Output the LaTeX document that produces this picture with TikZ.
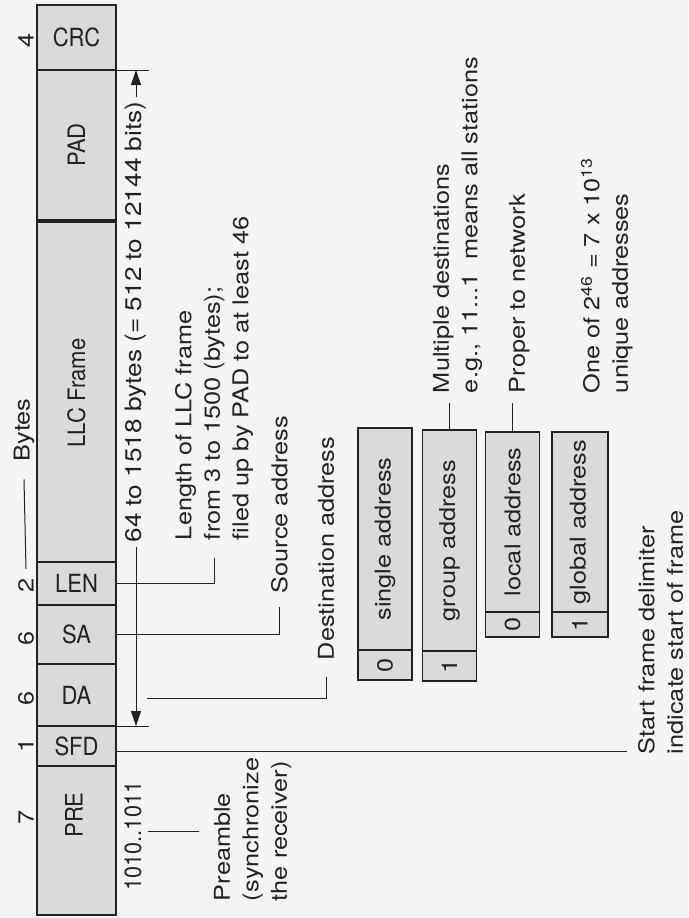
\documentclass[tikz,border=0pt]{standalone}
\usepackage{fontspec}
\setmainfont{TeX Gyre Heros}
\newfontfamily\rotf[FakeStretch=1.16]{TeX Gyre Heros}
\newfontfamily\rotc[FakeStretch=0.92]{TeX Gyre Heros}
\newfontfamily\horf[FakeStretch=0.88]{TeX Gyre Heros}
\usetikzlibrary{arrows.meta,calc}
\definecolor{bg}{HTML}{F4F4F4}
\definecolor{boxfill}{HTML}{DADADA}
\definecolor{ink}{HTML}{222222}
\begin{document}
\begin{tikzpicture}[x=1pt,y=-1pt,
  every node/.style={inner sep=0pt, outer sep=0pt, text=ink},
  hfield/.style={draw=ink, fill=boxfill, line width=1.1pt, minimum width=79pt, font=\horf\fontsize{25}{28}\selectfont},
  rfield/.style={draw=ink, fill=boxfill, line width=1.1pt, rotate=90, minimum height=79pt, font=\rotc\fontsize{24}{28}\selectfont},
  rlabel/.style={rotate=90, font=\rotc\fontsize{24}{28}\selectfont},
  note/.style={rotate=90, align=left, anchor=north west, font=\rotf\fontsize{21.8}{28.5}\selectfont},
  num/.style={rotate=90, font=\rotf\fontsize{21.8}{26}\selectfont},
  leader/.style={draw=ink, line width=1pt},
  dimarrow/.style={draw=ink, line width=1pt, -{Triangle[length=15pt,width=10pt]}},
  addr/.style={draw=ink, fill=boxfill, line width=1.1pt, rotate=90, minimum height=54pt, font=\rotf\fontsize{21.8}{26}\selectfont},
]
\fill[bg] (0,0) rectangle (688,918);
\useasboundingbox (0,0) rectangle (688,918);

% frame fields
\node[hfield, minimum height=65pt] (crc) at (76.5,37.5) {CRC};
\node[rfield, minimum width=150pt] (pad) at (76.5,145) {PAD};
\node[rfield, minimum width=342pt] (llc) at (76.5,393) {LLC Frame};
\node[hfield, minimum height=43pt] (len) at (76.5,583.5) {LEN};
\node[hfield, minimum height=59pt] (sa) at (76.5,634.5) {SA};
\node[hfield, minimum height=62pt] (da) at (76.5,695) {DA};
\node[hfield, minimum height=40pt] (sfd) at (76.5,746) {SFD};
\node[rfield, minimum width=149pt] (pre) at (76.5,840.5) {};
\node[rlabel] (prelabel) at (74,815) {PRE};

% byte counts
\node[num] (n4) at (26,40) {4};
\node[num] (n2) at (26,585) {2};
\node[num] (n6a) at (26,638) {6};
\node[num] (n6b) at (26,698) {6};
\node[num] (n1) at (26,745) {1};
\node[num] (n7) at (26,817) {7};
\node[num] (bytes) at (24,430) {Bytes};
\draw[leader] ($(bytes.west)+(0,18)$) -- ($(n2.east)+(0,-9)$);

% dimension arrow
\coordinate (atop) at (136,70);
\coordinate (abot) at (136,726);
\coordinate (ttop) at (149,70);
\coordinate (tbot) at (149,726);
\draw[leader] (crc.south east) -- (ttop);
\draw[leader] (da.south east) -- (tbot);
\node[num, font=\rotf\fontsize{22.6}{26}\selectfont] (dim) at (136,322) {64 to 1518 bytes (= 512 to 12144 bits)};
\draw[dimarrow] ($(dim.east)+(0,-4)$) -- (atop);
\draw[dimarrow] ($(dim.west)+(0,4)$) -- (abot);

% notes for frame fields
\node[note] (lenNote) at (175,540) {Length of LLC frame\\from 3 to 1500 (bytes);\\filed up by PAD to at least 46};
\draw[leader] (len.east) -| ($(lenNote.west)+(0,18)$);
\node[note] (saNote) at (271,593) {Source address};
\draw[leader] (sa.east) -| ($(saNote.west)+(0,14)$);
\node[note] (daNote) at (318,660) {Destination address};
\coordinate (dastart) at (147,698);
\draw[leader] (dastart) -| ($(daNote.west)+(0,17)$);
\node[note] (sfdNote) at (638,754) {Start frame delimiter\\indicate start of frame};
\coordinate (sfdstart) at (116,751);
\draw[leader] (sfdstart) -- ($(sfdstart -| sfdNote.north west)+(-11,0)$);
\node[num, font=\rotc\fontsize{23.5}{26}\selectfont] (p1010) at (133,836) {1010..1011};
\node[note] (preNote) at (214,901) {Preamble\\(synchronize\\the receiver)};
\draw[leader] ($(p1010.south)+(6,-5)$) -- ($(p1010.south -| preNote.north)+(-15,-5)$);

% address boxes
\node[addr, minimum width=222pt] (single) at (385,539) {single address};
\node[addr, minimum width=30pt] (singlebit) at (385,665) {0};
\node[addr, minimum width=221pt] (group) at (449.5,540.5) {group address};
\node[addr, minimum width=30pt] (groupbit) at (449.5,666) {1};
\node[addr, minimum width=180pt] (local) at (512.5,522) {local address};
\node[addr, minimum width=25pt] (localbit) at (512.5,624.5) {0};
\node[addr, minimum width=180pt, minimum height=56pt] (global) at (580,522) {global address};
\node[addr, minimum width=25pt, minimum height=56pt] (globalbit) at (580,624.5) {1};

\node[note] (groupNote) at (433,393) {Multiple destinations\\e.g., 11...1\ \ means all stations};
\draw[leader] (group.east) -- ($(group.east |- groupNote.west)+(0,10)$);
\node[note] (localNote) at (509,393) {Proper to network};
\draw[leader] (local.east) -- ($(local.east |- localNote.west)+(0,10)$);
\node[note] (globalNote) at (581,393) {One of 2\textsuperscript{46} = 7 x 10\textsuperscript{13}\\unique addresses};
\end{tikzpicture}
\end{document}
